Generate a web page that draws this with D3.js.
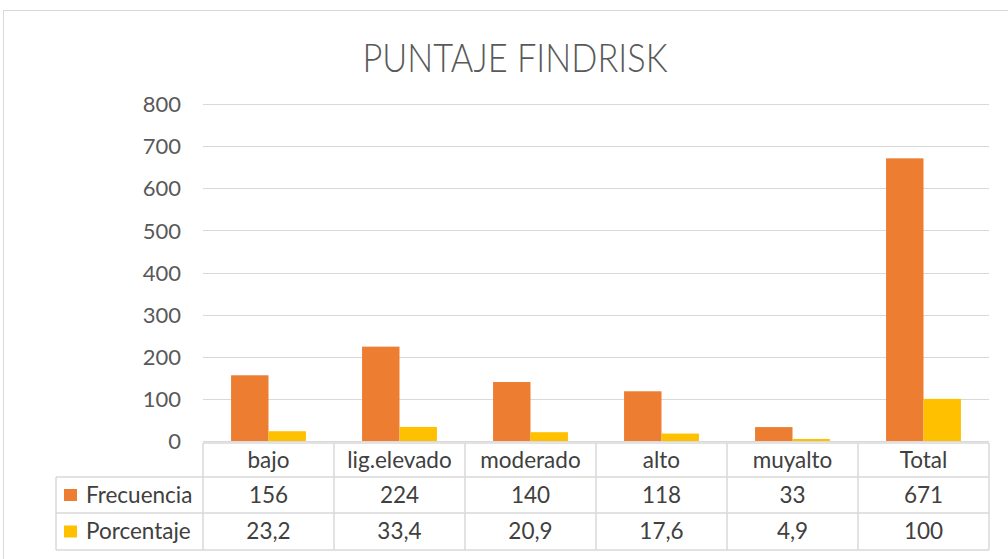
<!DOCTYPE html>
<html><head><meta charset="utf-8">
<script src="https://cdn.jsdelivr.net/npm/d3@7"></script>
<style>
body{margin:0;background:#fff;}
svg{display:block;font-family:Lato,"Open Sans",sans-serif;}
</style></head>
<body>
<script>
const categories = ["bajo","lig.elevado","moderado","alto","muyalto","Total"];
const frecuencia = [156,224,140,118,33,671];
const porcentaje = [23.2,33.4,20.9,17.6,4.9,100];
const porcentajeLabels = ["23,2","33,4","20,9","17,6","4,9","100"];
const seriesNames = ["Frecuencia","Porcentaje"];
const colors = ["#ED7D31","#FFC000"];
const yTicks = [0,100,200,300,400,500,600,700,800];

const W = 1008, H = 559;
const svg = d3.select("body").append("svg").attr("width",W).attr("height",H);

// chart border
svg.append("rect").attr("x",3.5).attr("y",10.5).attr("width",1010).attr("height",560)
  .attr("fill","#fff").attr("stroke","#d9d9d9").attr("stroke-width",1);

svg.append("text").attr("transform","translate(515,72) scale(0.86,1)").attr("text-anchor","middle")
  .attr("font-size",40).attr("font-weight",300).attr("fill","#595959")
  .text("PUNTAJE FINDRISK");

const x0 = d3.scaleBand().domain(categories).range([203,989]).paddingInner(0).paddingOuter(0);
const x1 = d3.scaleBand().domain(seriesNames).range([0,x0.bandwidth()]).paddingInner(0).paddingOuter(0.75);
const y = d3.scaleLinear().domain([0,800]).range([441,104]);

// gridlines
svg.append("g").selectAll("line").data(yTicks).join("line")
  .attr("x1",203).attr("x2",989).attr("y1",d=>Math.round(y(d))+0.5).attr("y2",d=>Math.round(y(d))+0.5)
  .attr("stroke","#d9d9d9").attr("stroke-width",1);

// y axis labels
const yAxis = d3.axisLeft(y).tickValues(yTicks).tickSize(0).tickPadding(0);
const ga = svg.append("g").attr("transform","translate(181,0)").call(yAxis);
ga.select(".domain").remove();
ga.selectAll("text").attr("font-size",22).attr("fill","#595959").attr("font-family","Lato, sans-serif").attr("dy","0.35em");

// bars
const data = [frecuencia, porcentaje];
const gb = svg.append("g");
categories.forEach((c,i)=>{
  seriesNames.forEach((s,j)=>{
    gb.append("rect")
      .attr("x",x0(c)+x1(s)).attr("width",x1.bandwidth())
      .attr("y",y(data[j][i])).attr("height",y(0)-y(data[j][i]))
      .attr("fill",colors[j]);
  });
});

// data table
const rowY = [443,477,513,550];
const tbl = svg.append("g").attr("stroke","#d9d9d9").attr("stroke-width",1.5).attr("fill","none");
tbl.append("line").attr("x1",203).attr("x2",989).attr("y1",rowY[0]).attr("y2",rowY[0]);
for (let k=1;k<4;k++) tbl.append("line").attr("x1",56).attr("x2",989).attr("y1",rowY[k]).attr("y2",rowY[k]);
const colEdges = categories.map(c=>x0(c)).concat([989]);
colEdges.forEach(xx=>tbl.append("line").attr("x1",xx).attr("x2",xx).attr("y1",rowY[0]).attr("y2",rowY[3]));
tbl.append("line").attr("x1",56).attr("x2",56).attr("y1",rowY[1]).attr("y2",rowY[3]);

const txt = svg.append("g").attr("font-size",22.5).attr("fill","#404040").attr("text-anchor","middle");
categories.forEach((c,i)=>{
  const cx = x0(c)+x0.bandwidth()/2;
  txt.append("text").attr("x",cx).attr("y",(rowY[0]+rowY[1])/2).attr("dy","0.35em").text(c);
  txt.append("text").attr("x",cx).attr("y",(rowY[1]+rowY[2])/2).attr("dy","0.35em").text(frecuencia[i]);
  txt.append("text").attr("x",cx).attr("y",(rowY[2]+rowY[3])/2).attr("dy","0.35em").text(porcentajeLabels[i]);
});
seriesNames.forEach((s,j)=>{
  const cy = (rowY[j+1]+rowY[j+2])/2;
  svg.append("rect").attr("x",64).attr("y",cy-6).attr("width",13).attr("height",12).attr("fill",colors[j]);
  svg.append("text").attr("x",86).attr("y",cy).attr("dy","0.35em").attr("font-size",22.5)
    .attr("fill","#404040").text(s);
});
</script>
</body></html>
